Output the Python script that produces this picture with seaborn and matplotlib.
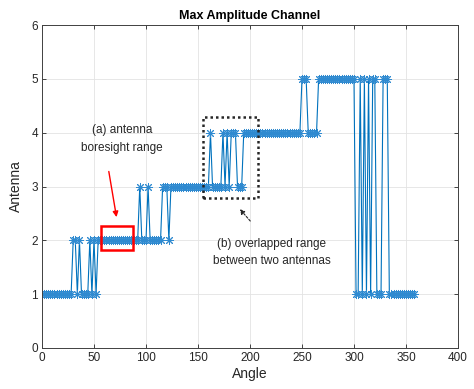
import numpy as np
import pandas as pd
import matplotlib
matplotlib.use("Agg")
import matplotlib.pyplot as plt
from matplotlib.patches import Rectangle
import seaborn as sns

# Angle grid (degrees) and run-length encoded antenna index
angles = np.arange(0, 360, 2)
run_start = [0, 30, 34, 36, 38, 46, 48, 50, 52, 54, 94, 96, 102, 104, 116, 122, 124,
             162, 164, 174, 176, 178, 180, 182, 188, 194, 250, 256, 266,
             302, 306, 308, 310, 312, 314, 316, 318, 322, 328, 334]
run_value = [1, 2, 1, 2, 1, 2, 1, 2, 1, 2, 3, 2, 3, 2, 3, 2, 3,
             4, 3, 4, 3, 4, 3, 4, 3, 4, 5, 4, 5,
             1, 5, 1, 5, 1, 5, 1, 5, 1, 5, 1]

bounds = run_start + [360]
lengths = [(bounds[i + 1] - bounds[i]) // 2 for i in range(len(run_start))]
antenna = np.repeat(run_value, lengths)

df = pd.DataFrame({"Angle": angles, "Antenna": antenna})

sns.set_theme(style="white")
plt.rcParams['font.family'] = ['Liberation Sans', 'DejaVu Sans']

fig = plt.figure(figsize=(4.74, 3.89), dpi=100)
ax = fig.add_axes([0.0886, 0.1054, 0.8776, 0.8303])

sns.lineplot(data=df, x="Angle", y="Antenna", ax=ax, color="#0072BD",
             linewidth=0.8, marker=(8, 2, 0), markersize=6.5,
             markeredgewidth=0.7, markeredgecolor="#2f8ad0",
             estimator=None, sort=False)

ax.set_xlim(0, 400)
ax.set_ylim(0, 6)
ax.set_xticks(np.arange(0, 401, 50))
ax.set_yticks(np.arange(0, 7, 1))
ax.grid(True, color="#e3e3e3", linewidth=0.6)
ax.tick_params(direction="in", length=3, width=0.6, colors="#262626",
               labelsize=8.5, top=True, right=True, bottom=True, left=True,
               pad=3)
for s in ax.spines.values():
    s.set_color("#404040")
    s.set_linewidth(0.7)

ax.set_title("Max Amplitude Channel", fontsize=9, fontweight="bold",
             color="black", pad=4)
ax.set_xlabel("Angle", fontsize=10, color="#262626", labelpad=2)
ax.set_ylabel("Antenna", fontsize=10, color="#262626", labelpad=6)

# Annotations
ax.add_patch(Rectangle((56.7, 1.82), 30.8, 0.45, fill=False, edgecolor="red",
                       linewidth=1.8, zorder=5))
ax.annotate("", xy=(72.1, 2.38), xytext=(63.8, 3.33),
            arrowprops=dict(arrowstyle="-|>", color="red", lw=1.0,
                            mutation_scale=8))
ax.text(77, 3.88, "(a) antenna\nboresight range", ha="center", va="center",
        fontsize=8.5, color="#262626", linespacing=1.6)

ax.add_patch(Rectangle((155, 2.78), 53, 1.51, fill=False, edgecolor="#262626",
                       linewidth=1.8, linestyle=(0, (1, 1.2)), zorder=5))
ax.annotate("", xy=(188.5, 2.62), xytext=(202, 2.32),
            arrowprops=dict(arrowstyle="-|>", color="#262626", lw=0.8,
                            linestyle=(0, (2, 1.5)), mutation_scale=7))
ax.text(221, 1.77, "(b) overlapped range\nbetween two antennas", ha="center",
        va="center", fontsize=8.5, color="#262626", linespacing=1.5)

fig.savefig("out.png", dpi=100)
